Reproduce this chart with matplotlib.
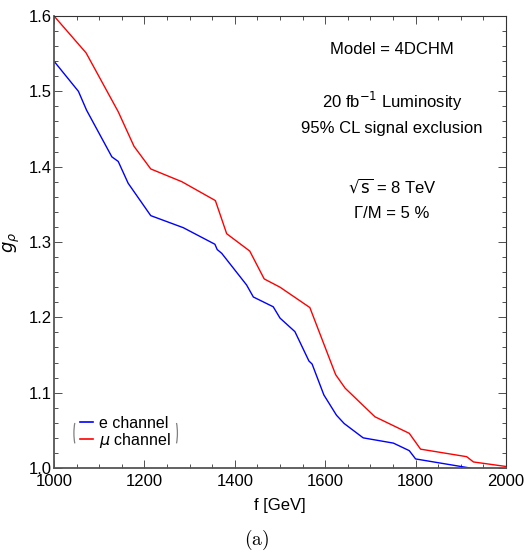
import matplotlib
matplotlib.use("Agg")
import matplotlib.pyplot as plt
from matplotlib.ticker import MultipleLocator
from matplotlib.patches import Arc

plt.rcParams['font.family'] = ['Liberation Sans', 'DejaVu Sans']

# Exclusion limits on g_rho versus f for the two lepton channels
f_e = [1000, 1054, 1072, 1128, 1142, 1164, 1214, 1286, 1356, 1361, 1371, 1426,
       1441, 1485, 1500, 1533, 1564, 1571, 1597, 1625, 1642, 1684, 1751, 1786,
       1800, 1920]
g_e = [1.540, 1.500, 1.475, 1.413, 1.407, 1.378, 1.335, 1.319, 1.297, 1.290,
       1.285, 1.243, 1.227, 1.214, 1.199, 1.181, 1.142, 1.138, 1.097, 1.070,
       1.059, 1.040, 1.033, 1.023, 1.012, 1.000]

f_mu = [1000, 1071, 1142, 1177, 1214, 1283, 1357, 1382, 1433, 1465, 1500,
        1566, 1623, 1644, 1710, 1786, 1811, 1913, 1928, 2000]
g_mu = [1.600, 1.551, 1.473, 1.427, 1.397, 1.380, 1.355, 1.311, 1.288, 1.251,
        1.240, 1.213, 1.124, 1.106, 1.068, 1.046, 1.025, 1.015, 1.008, 1.002]

x_ticks = [1000, 1200, 1400, 1600, 1800, 2000]
y_ticks = [1.0, 1.1, 1.2, 1.3, 1.4, 1.5, 1.6]

info_lines = ["Model = 4DCHM", r"20 fb$^{-1}$ Luminosity", "95% CL signal exclusion",
              r"$\sqrt{\mathrm{s}}$ = 8 TeV", "Γ/M = 5 %"]
info_y = [0.925, 0.810, 0.752, 0.624, 0.564]

fig = plt.figure(figsize=(5.25, 5.56), dpi=100)
ax = fig.add_axes([0.1029, 0.1583, 0.8609, 0.8129])

ax.plot(f_e, g_e, color='#0000ff', lw=1.0, label='e channel')
ax.plot(f_mu, g_mu, color='#ff0000', lw=1.0, label=r'$\mu$ channel')

ax.set_xlim(1000, 2000)
ax.set_ylim(1.0, 1.6)
ax.set_xticks(x_ticks)
ax.set_yticks(y_ticks)
ax.set_xticklabels([str(v) for v in x_ticks])
ax.set_yticklabels([f"{v:.1f}" for v in y_ticks])
ax.xaxis.set_minor_locator(MultipleLocator(50))
ax.yaxis.set_minor_locator(MultipleLocator(0.02))
ax.tick_params(which='both', direction='in', top=True, right=True,
               labelsize=12, colors='#333333', labelcolor='black', width=0.6)
ax.tick_params(which='major', length=5.5)
ax.tick_params(which='minor', length=3)
ax.tick_params(axis='x', which='major', pad=4.5)
ax.tick_params(axis='y', which='major', pad=1.5)

for side in ('left', 'bottom'):
    ax.spines[side].set_color('#555555')
    ax.spines[side].set_linewidth(1.3)
for side in ('top', 'right'):
    ax.spines[side].set_color('#333333')
    ax.spines[side].set_linewidth(0.8)

ax.set_xlabel('f [GeV]', fontsize=12, labelpad=6.5)
ax.set_ylabel(r'$g_\rho$', fontsize=13, labelpad=5)

for txt, yy in zip(info_lines, info_y):
    ax.text(0.748, yy, txt, transform=ax.transAxes, ha='center', va='center',
            fontsize=12, math_fontfamily='dejavusans')

leg = ax.legend(loc='lower left', bbox_to_anchor=(0.058, 0.040), frameon=False,
                fontsize=11.5, handlelength=0.8, handletextpad=0.35,
                labelspacing=0.0, borderpad=0.0, borderaxespad=0.0)
for h in leg.get_lines():
    h.set_linewidth(1.2)

# thin parentheses framing the legend
bw, bh, yc = 0.028, 0.088, 0.077
ax.add_patch(Arc((0.058, yc), bw, bh, theta1=118, theta2=242,
                 transform=ax.transAxes, color='#808080', lw=0.9))
ax.add_patch(Arc((0.259, yc), bw, bh, theta1=-62, theta2=62,
                 transform=ax.transAxes, color='#808080', lw=0.9))

fig.text(0.489, 0.028, r'$\mathrm{(a)}$', ha='center', va='center',
         fontsize=14, math_fontfamily='cm')

fig.savefig('out.png', dpi=100)
